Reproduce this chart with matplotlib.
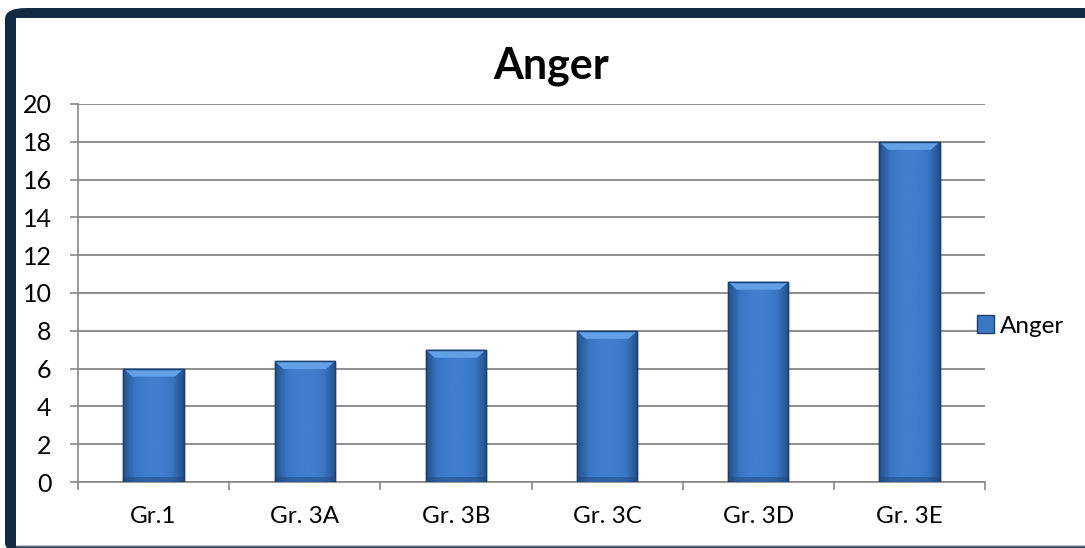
import numpy as np
import matplotlib
matplotlib.use('Agg')
import matplotlib.pyplot as plt
from matplotlib.patches import Rectangle, FancyBboxPatch, Polygon
from matplotlib.colors import LinearSegmentedColormap

# data
groups = ['Gr.1', 'Gr. 3A', 'Gr. 3B', 'Gr. 3C', 'Gr. 3D', 'Gr. 3E']
anger = [6.0, 6.4, 7.0, 8.0, 10.6, 18.0]
y_ticks = [0, 2, 4, 6, 8, 10, 12, 14, 16, 18, 20]

plt.rcParams['font.family'] = ['Lato', 'DejaVu Sans']

W, H = 1085, 548
fig = plt.figure(figsize=(W / 100, H / 100), dpi=100)

# dark navy frame round the chart (cut off at the right edge)
fig.patches.append(FancyBboxPatch((5 / W, -0.01), 1.2, 1 - 8 / H + 0.01,
                                  boxstyle='round,pad=0,rounding_size=0.02',
                                  transform=fig.transFigure, facecolor='#132a45',
                                  edgecolor='none', zorder=-3))
fig.patches.append(Rectangle((16 / W, 2 / H), 1.2, 1 - 20 / H,
                             transform=fig.transFigure, facecolor='white',
                             edgecolor='none', zorder=-2))
fig.patches.append(Rectangle((16 / W, 2 / H), 1.2, 0.0,
                             transform=fig.transFigure, facecolor='none',
                             edgecolor='#5a6a80', lw=1.0, zorder=-1))

ax = fig.add_axes([78 / W, 1 - 482 / H, (985 - 78) / W, (482 - 104) / H])
ax.set_facecolor('none')
x = np.arange(len(groups))
ax.set_xlim(-0.5, len(groups) - 0.5)
ax.set_ylim(0, 20)

bars = ax.bar(x, anger, width=0.4, color='#3b78c4', edgecolor='#1d3f6e',
              linewidth=1.0, zorder=3)

# horizontal gradient for the bars: darker at the sides, lighter in the middle
cmap = LinearSegmentedColormap.from_list('bar', ['#234f8a', '#3977c5', '#3f7fcd', '#3f7fcd', '#3977c5', '#234f8a'])
grad = np.linspace(0, 1, 256).reshape(1, -1)

# px -> data conversions for the bevel
px_x = 1.0 / ((985 - 78) / len(groups))
px_y = 20.0 / (482 - 104)
for b in bars:
    x0, w, h = b.get_x(), b.get_width(), b.get_height()
    im = ax.imshow(grad, cmap=cmap, aspect='auto', extent=(x0, x0 + w, 0, h),
                   zorder=3.5, interpolation='bicubic')
    im.set_clip_path(b)
    # light bevel at the top of each bar
    bev_x, bev_y = 9 * px_x, 8 * px_y
    top = Polygon([(x0, h), (x0 + w, h), (x0 + w - bev_x, h - bev_y), (x0 + bev_x, h - bev_y)],
                  closed=True, facecolor='#62a0e8', edgecolor='none', zorder=3.6)
    ax.add_patch(top)
    # slight darkening near the bottom
    shade = Rectangle((x0, 0), w, 5 * px_y, facecolor='#1d4479', alpha=0.45,
                      edgecolor='none', zorder=3.6)
    ax.add_patch(shade)
    outline = Rectangle((x0, 0), w, h, facecolor='none', edgecolor='#1d3f6e',
                        lw=1.0, zorder=3.7)
    ax.add_patch(outline)

ax.set_yticks(y_ticks)
ax.set_yticklabels([str(v) for v in y_ticks], fontsize=18)
ax.set_xticks(x)
ax.set_xticklabels(groups, fontsize=17.5)
ax.tick_params(axis='x', length=0, pad=17)
ax.tick_params(axis='y', length=6, color='#888888', width=1.2, pad=13)
# category boundary ticks on the x axis
ax.set_xticks(np.arange(-0.5, len(groups), 1.0), minor=True)
ax.tick_params(axis='x', which='minor', length=6, color='#888888', width=1.2)

ax.yaxis.grid(True, color='#868686', lw=1.3, zorder=0)
ax.set_axisbelow(True)
for s in ['top', 'right']:
    ax.spines[s].set_visible(False)
for s in ['left', 'bottom']:
    ax.spines[s].set_color('#888888')
    ax.spines[s].set_linewidth(1.2)

fig.text(551 / W, 1 - 66 / H, 'Anger', fontsize=31, fontweight='bold',
         ha='center', va='center')

leg_patch = Rectangle((0, 0), 1, 1, facecolor='#3b78c4', edgecolor='#1d3f6e', lw=1.0)
fig.legend([leg_patch], ['Anger'], loc='center left', bbox_to_anchor=(977 / W, 1 - 326 / H),
           frameon=False, fontsize=17.5, handlelength=0.7, handleheight=0.7,
           handletextpad=0.25, borderpad=0, borderaxespad=0)

fig.savefig('out.png', dpi=100)
